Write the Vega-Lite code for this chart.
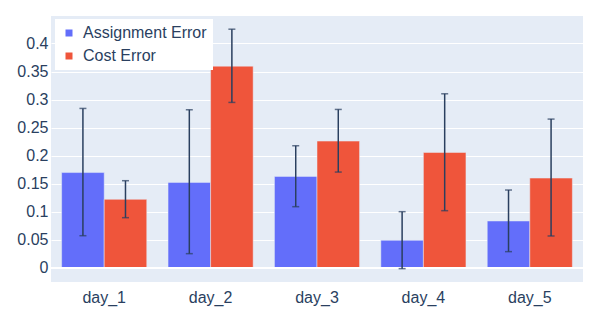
{
  "$schema": "https://vega.github.io/schema/vega-lite/v6.json",
  "width": 532,
  "height": 266,
  "autosize": {"type": "none"},
  "padding": {"left": 51, "top": 16, "right": 15, "bottom": 27},
  "background": "white",
  "config": {
    "view": {"fill": "#E5ECF6", "stroke": null},
    "font": "Liberation Sans",
    "axis": {"labelFont": "Liberation Sans", "labelColor": "#2a3f5f", "labelFontSize": 16, "titleColor": "#2a3f5f", "labelOverlap": false},
    "axisY": {"tickCount": 10, "gridColor": "white", "domain": false, "ticks": false, "labelPadding": 3},
    "legend": {"labelFont": "Liberation Sans", "labelColor": "#2a3f5f", "labelFontSize": 16}
  },
  "data": {
    "values": [
      {"day": "day_1", "series": "Assignment Error", "value": 0.170, "lo": 0.0575, "hi": 0.2843},
      {"day": "day_1", "series": "Cost Error", "value": 0.1223, "lo": 0.0896, "hi": 0.1555},
      {"day": "day_2", "series": "Assignment Error", "value": 0.1525, "lo": 0.0255, "hi": 0.2819},
      {"day": "day_2", "series": "Cost Error", "value": 0.3596, "lo": 0.2950, "hi": 0.4255},
      {"day": "day_3", "series": "Assignment Error", "value": 0.1632, "lo": 0.1092, "hi": 0.2178},
      {"day": "day_3", "series": "Cost Error", "value": 0.2261, "lo": 0.1709, "hi": 0.2825},
      {"day": "day_4", "series": "Assignment Error", "value": 0.0493, "lo": -0.0012, "hi": 0.1003},
      {"day": "day_4", "series": "Cost Error", "value": 0.2059, "lo": 0.1021, "hi": 0.3104},
      {"day": "day_5", "series": "Assignment Error", "value": 0.0837, "lo": 0.0291, "hi": 0.1389},
      {"day": "day_5", "series": "Cost Error", "value": 0.1602, "lo": 0.0570, "hi": 0.2653}
    ]
  },
  "encoding": {
    "x": {
      "field": "day", "type": "nominal",
      "scale": {"paddingInner": 0.2, "paddingOuter": 0.1},
      "axis": {"title": null, "labelAngle": 0, "domain": false, "ticks": false, "labelPadding": 7, "grid": false}
    },
    "xOffset": {"field": "series", "type": "nominal", "scale": {"paddingInner": 0, "paddingOuter": 0}}
  },
  "layer": [
    {
      "mark": {"type": "bar", "stroke": "#E5ECF6", "strokeWidth": 0.5},
      "encoding": {
        "y": {
          "field": "value", "type": "quantitative",
          "scale": {"domain": [-0.025, 0.449], "nice": false, "zero": false},
          "axis": {"title": null, "tickCount": 10, "format": "~g", "labelOverlap": false}
        },
        "color": {
          "field": "series", "type": "nominal",
          "scale": {"range": ["#636efa", "#EF553B"]},
          "legend": {"title": null, "orient": "none", "legendX": 4, "legendY": 3, "fillColor": "white", "padding": 6, "symbolType": "square", "symbolSize": 49, "symbolStrokeWidth": 0, "rowPadding": 7, "labelOffset": 6}
        }
      }
    },
    {
      "mark": {"type": "rule", "color": "white", "strokeWidth": 1.5},
      "encoding": {"x": null, "xOffset": null, "y": {"datum": 0, "type": "quantitative"}}
    },
    {
      "mark": {"type": "rule", "color": "#2a3f5f", "strokeWidth": 1.5},
      "encoding": {
        "y": {"field": "lo", "type": "quantitative"},
        "y2": {"field": "hi"}
      }
    },
    {
      "mark": {"type": "tick", "color": "#2a3f5f", "thickness": 1.5, "size": 7},
      "encoding": {"y": {"field": "lo", "type": "quantitative"}}
    },
    {
      "mark": {"type": "tick", "color": "#2a3f5f", "thickness": 1.5, "size": 7},
      "encoding": {"y": {"field": "hi", "type": "quantitative"}}
    }
  ]
}
